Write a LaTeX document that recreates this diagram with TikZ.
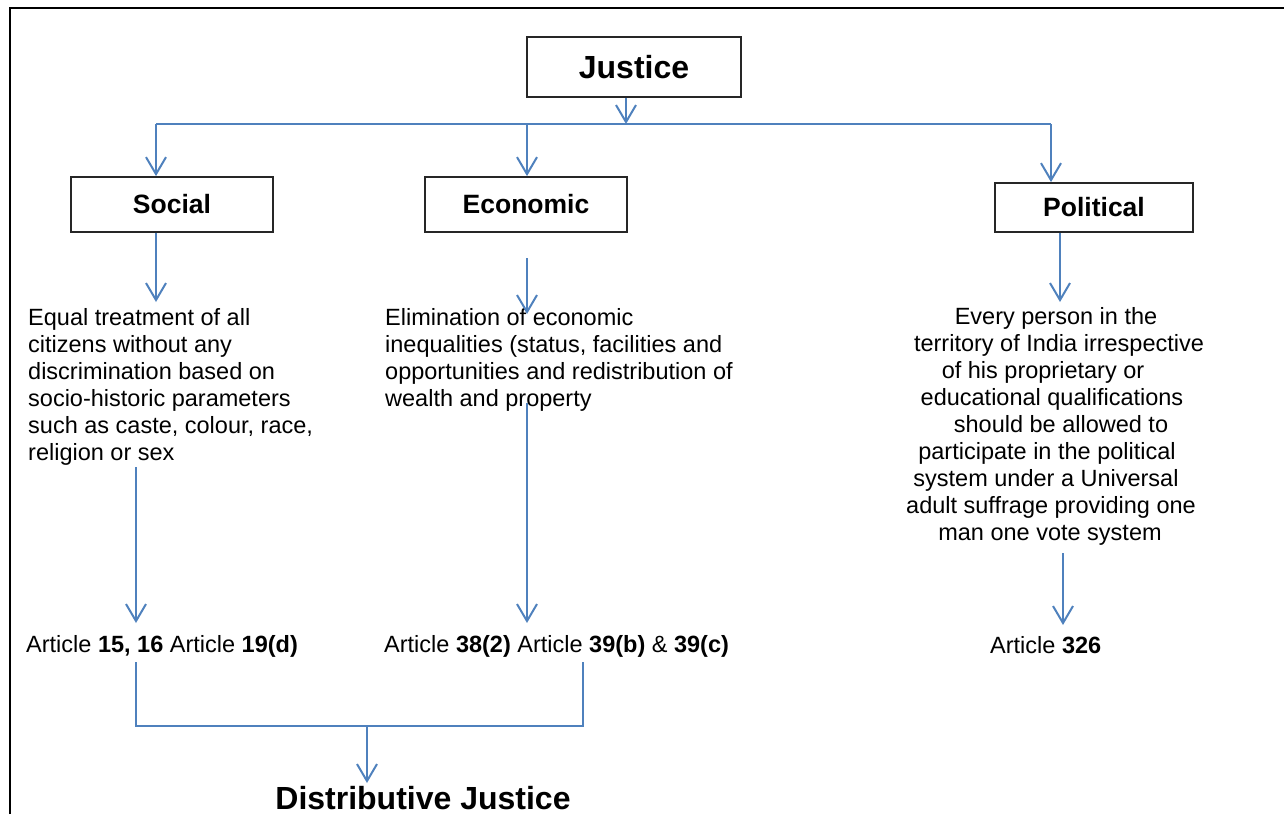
\documentclass[tikz,border=0pt]{standalone}
\usepackage{fontspec}
\setmainfont{Liberation Sans}
\usetikzlibrary{arrows.meta}
\definecolor{lnblue}{HTML}{4F81BD}
\newcommand\mysh[1]{\hspace*{#1pt}}
\begin{document}
\begin{tikzpicture}[x=1pt,y=-1pt,
  conn/.style={draw=lnblue,line width=2pt,-{Straight Barb[length=17pt,width=20pt]}},
  plain/.style={draw=lnblue,line width=2pt},
  box/.style={draw=black!85,line width=1.8pt,font=\fontsize{26.5}{30}\selectfont\bfseries,inner sep=0pt},
  body/.style={font=\fontsize{23.5}{27}\selectfont,inner sep=0pt},
]
\useasboundingbox (0,0) rectangle (1284,814);
\draw[line width=2.5pt] (10,814) -- (10,8) -- (1284,8);

% boxes
\node[box,minimum width=214pt,minimum height=60pt,font=\fontsize{32}{36}\selectfont\bfseries] (J) at (634,67) {Justice};
\node[box,minimum width=202pt,minimum height=55pt] (S) at (172,204.5) {Social};
\node[box,minimum width=202pt,minimum height=55pt] (E) at (526,204.5) {Economic};
\node[box,minimum width=198pt,minimum height=49pt] (P) at (1094,207.5) {Political};

% texts
\node[body,anchor=north west,align=left] (St) at (28,308) {Equal treatment of all\\citizens without any\\discrimination based on\\socio-historic parameters\\such as caste, colour, race,\\religion or sex};
\node[body,anchor=north west,align=left] (Et) at (385,308) {Elimination of economic\\inequalities (status, facilities and\\opportunities and redistribution of\\wealth and property};
\node[body,anchor=north,align=center] (Pt) at (1052,307) {\mysh{8}Every person in the\\\mysh{14}territory of India irrespective\\of his proprietary or\kern18pt\\educational qualifications\\\mysh{18}should be allowed to\\participate in the political\kern10pt\\system under a Universal\kern12pt\\adult suffrage providing one\kern2pt\\man one vote system\kern4pt};

% articles
\node[body,anchor=base west] (Sa) at (26,652) {Article \textbf{15, 16} Article \textbf{19(d)}};
\node[body,anchor=base west] (Ea) at (384,652) {Article \textbf{38(2)} Article \textbf{39(b)} \& \textbf{39(c)}};
\node[body,anchor=base west] (Pa) at (990,653) {Article \textbf{326}};
\node[font=\fontsize{32}{36}\selectfont\bfseries,inner sep=0pt,anchor=base] (D) at (423,809) {Distributive Justice};

% coordinates
\coordinate (jb) at (626,124);
\coordinate (hl) at (156,124);
\coordinate (he) at (527,124);
\coordinate (hr) at (1051,124);
\coordinate (s2) at (156,302);
\coordinate (e1) at (527,258);
\coordinate (e2) at (527,314);
\coordinate (p2) at (1060,302);
\coordinate (s3) at (136,467);
\coordinate (s4) at (136,623);
\coordinate (e3) at (527,403);
\coordinate (e4) at (527,623);
\coordinate (p3) at (1063,553);
\coordinate (p4) at (1063,625);
\coordinate (b1) at (136,662);
\coordinate (b2) at (583,662);
\coordinate (bm) at (367,726);
\coordinate (bt) at (367,783);

% connectors
\draw[conn] (J.south -| jb) -- (jb);
\draw[plain] (hl) -- (hr);
\draw[conn] (hl) -- (hl |- S.north);
\draw[conn] (he) -- (he |- E.north);
\draw[conn] (hr) -- (hr |- P.north);
\draw[conn] (S.south -| s2) -- (s2);
\draw[conn] (e1) -- (e2);
\draw[conn] (P.south -| p2) -- (p2);
\draw[conn] (s3) -- (s4);
\draw[conn] (e3) -- (e4);
\draw[conn] (p3) -- (p4);
\draw[plain] (b1) -- (b1 |- bm) -- (b2 |- bm) -- (b2);
\draw[conn] (bm) -- (bt);
\end{tikzpicture}
\end{document}
